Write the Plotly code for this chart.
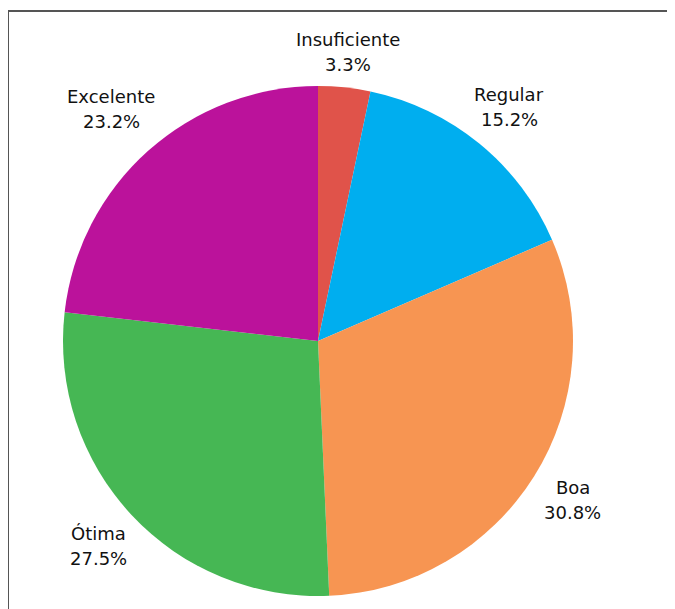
import math
import plotly.graph_objects as go

labels = ["Insuficiente", "Regular", "Boa", "Ótima", "Excelente"]
values = [3.3, 15.2, 30.8, 27.5, 23.2]
colors = ["#E0534A", "#00AEEF", "#F79552", "#46B754", "#BB129B"]

# page body adds an 8px offset; figure sized to fill the rest of the window
OFF = 8
W, H = 675 - OFF, 609 - OFF
cx, cy, r = 318 - OFF, 341 - OFF, 255

FONT = "DejaVu Sans"
FS = 18
LINE_GAP = 25      # baseline-to-baseline distance between the two label lines
LABEL_GAP = 12     # distance from pie edge to nearest side of label block
HALF_H = 18        # half-height of a two-line label block

fig = go.Figure(go.Pie(
    labels=labels,
    values=values,
    sort=False,
    direction="clockwise",
    rotation=0,
    marker=dict(colors=colors, line=dict(width=0)),
    textinfo="none",
    hoverinfo="label+percent",
    showlegend=False,
    domain=dict(x=[(cx - r) / W, (cx + r) / W], y=[(H - cy - r) / H, (H - cy + r) / H]),
))

narrow = {"i": 0.28, "l": 0.28, "I": 0.3, "f": 0.35, "t": 0.39, "j": 0.28, ".": 0.32,
          "r": 0.41, "%": 0.95, " ": 0.32}


def text_width(s):
    return sum(narrow.get(c, 0.62) for c in s) * FS


annotations = []
total = sum(values)
acc = 0.0
for lab, val in zip(labels, values):
    mid = (acc + val / 2) / total * 2 * math.pi
    acc += val
    pct = f"{val / total * 100:.1f}%"
    hw = max(text_width(lab), text_width(pct)) / 2
    s, c = math.sin(mid), math.cos(mid)
    R = r + LABEL_GAP + hw * abs(s) + HALF_H * abs(c)
    lx = cx + R * s
    ly = cy - R * c
    for txt, dy in ((lab, -LINE_GAP / 2), (pct, LINE_GAP / 2)):
        annotations.append(dict(
            x=lx / W, y=1 - (ly + dy) / H, xref="paper", yref="paper",
            text=txt, showarrow=False, xanchor="center", yanchor="middle",
            font=dict(family=FONT, size=FS, color="#111111"),
        ))

fig.update_layout(
    width=W, height=H,
    margin=dict(l=0, r=0, t=0, b=0),
    paper_bgcolor="white",
    plot_bgcolor="white",
    annotations=annotations,
    shapes=[dict(type="rect", xref="paper", yref="paper",
                 x0=(7 - OFF) / W + 0.0015, x1=1.02, y0=-0.02, y1=1 - (11 - OFF) / H,
                 line=dict(color="#555555", width=2), layer="below")],
)

fig.write_html("out.html")
